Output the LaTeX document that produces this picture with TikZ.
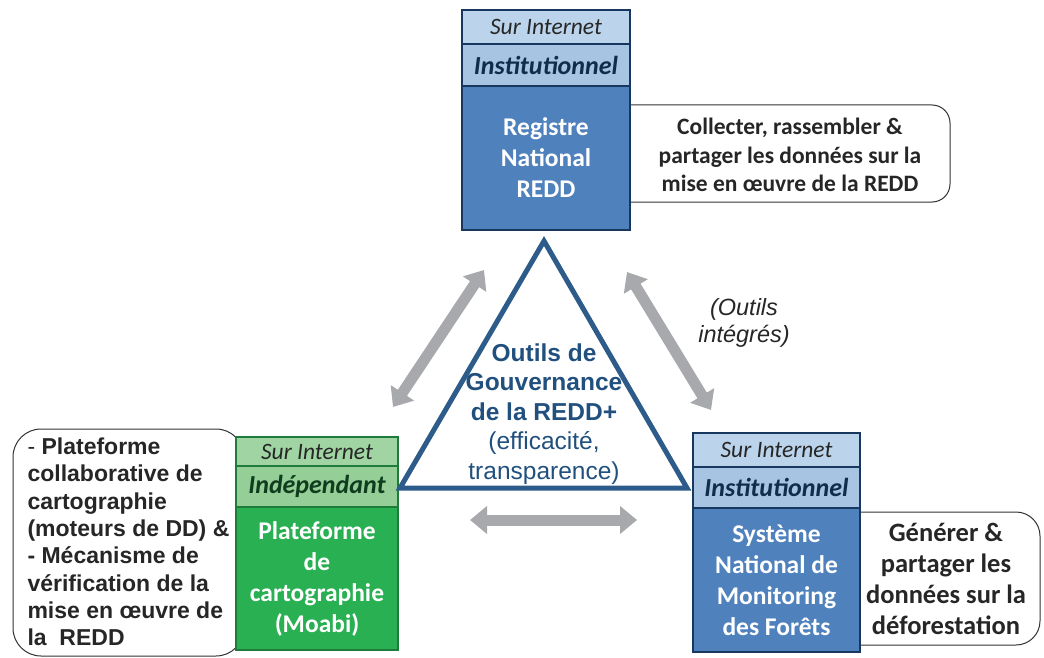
\documentclass[tikz,border=0pt]{standalone}
\usepackage{fontspec}
\setmainfont{Carlito}
\newfontfamily\arialfont{Liberation Sans}
\usetikzlibrary{arrows.meta}

\definecolor{navyline}{RGB}{23,55,94}
\definecolor{boxblue}{RGB}{79,129,189}
\definecolor{webblue}{RGB}{187,212,236}
\definecolor{instblue}{RGB}{167,196,226}
\definecolor{greenline}{RGB}{30,123,58}
\definecolor{boxgreen}{RGB}{41,176,82}
\definecolor{webgreen}{RGB}{160,212,162}
\definecolor{indgreen}{RGB}{150,206,152}
\definecolor{triblue}{RGB}{45,92,138}
\definecolor{tritext}{RGB}{33,80,126}
\definecolor{arrowgray}{RGB}{168,169,173}
\definecolor{textgray}{RGB}{38,38,38}

\tikzset{
  row/.style={draw, line width=2.5pt, inner sep=0pt, align=center},
  webrow/.style={row, font=\fontsize{23.5}{26}\selectfont\itshape, text=textgray},
  kindrow/.style={row, font=\fontsize{26}{28}\selectfont\bfseries\itshape},
  mainrow/.style={row, text=white, font=\fontsize{25.5}{31}\selectfont\bfseries},
  callout/.style={draw=black!80, line width=1pt, rounded corners=#1, fill=white},
  calltext/.style={text=textgray, align=center, font=\fontsize{23.5}{28.5}\selectfont\bfseries},
  link/.style={{Triangle[width=27pt,length=17pt]}-{Triangle[width=27pt,length=17pt]},
    line width=11pt, arrowgray}
}

\begin{document}
\begin{tikzpicture}[x=1pt, y=-1pt]
  \useasboundingbox (0,0) rectangle (1044,658);

  % Callouts (behind the boxes)
  \draw[callout=18pt] (600,105) rectangle (950,202);
  \node[calltext] (reg-note) at (790,155)
    {Collecter, rassembler \&\\partager les données sur la\\mise en œuvre de la REDD};

  \draw[callout=28pt] (13,429) rectangle (244,656);
  \node[anchor=west, align=left, text=textgray,
    font=\arialfont\fontsize{23}{27.3}\selectfont] (moabi-note) at (24,542)
    {- \textbf{Plateforme}\\\textbf{collaborative de}\\\textbf{cartographie}\\
     \textbf{(moteurs de DD) \&}\\\textbf{- Mécanisme de}\\\textbf{vérification de la}\\
     \textbf{mise en œuvre de}\\\textbf{la\ \ REDD}};

  \draw[callout=24pt] (830,512) rectangle (1040,645);
  \node[calltext, font=\fontsize{26.5}{31}\selectfont\bfseries] (snmf-note) at (946,579)
    {Générer \&\\partager les\\données sur la\\déforestation};

  % Registre National REDD
  \node[webrow, draw=navyline, fill=webblue, minimum width=168, minimum height=34]
    (reg-web) at (546,27) {Sur Internet};
  \node[kindrow, draw=navyline, fill=instblue, text=navyline!80!black,
    minimum width=168, minimum height=42] (reg-kind) at (546,65) {Institutionnel};
  \node[mainrow, draw=navyline, fill=boxblue, minimum width=168, minimum height=144]
    (reg) at (546,158) {Registre\\National\\REDD};

  % Plateforme de cartographie
  \node[webrow, draw=greenline, fill=webgreen, minimum width=162, minimum height=29]
    (moabi-web) at (317,451.5) {Sur Internet};
  \node[kindrow, draw=greenline, fill=indgreen, text=greenline!50!black,
    minimum width=162, minimum height=41] (moabi-kind) at (317,486.5) {Indépendant};
  \node[mainrow, draw=greenline, fill=boxgreen, minimum width=162, minimum height=143]
    (moabi) at (317,578.5) {Plateforme\\de\\cartographie\\(Moabi)};

  % Systeme National de Monitoring des Forets
  \node[webrow, draw=navyline, fill=webblue, minimum width=167, minimum height=34]
    (snmf-web) at (776.5,450) {Sur Internet};
  \node[kindrow, draw=navyline, fill=instblue, text=navyline!80!black,
    minimum width=167, minimum height=41] (snmf-kind) at (776.5,487.5) {Institutionnel};
  \node[mainrow, draw=navyline, fill=boxblue, minimum width=167, minimum height=144]
    (snmf) at (776.5,580) {Système\\National de\\Monitoring\\des Forêts};

  % Triangle
  \coordinate (top) at (544,241);
  \coordinate (left) at (400,488);
  \coordinate (right) at (687,488);
  \draw[triblue, line width=5pt, line join=miter] (top) -- (left) -- (right) -- cycle;
  \node[text=tritext, align=center, font=\arialfont\fontsize{24.5}{29.5}\selectfont]
    (gov) at (544,414)
    {\textbf{Outils de}\\\textbf{Gouvernance}\\\textbf{de la REDD+}\\(efficacité,\\transparence)};

  % Links between the tools
  \coordinate (l1) at (393,407);
  \coordinate (l2) at (484,270);
  \coordinate (r1) at (627,272);
  \coordinate (r2) at (711,410);
  \coordinate (b1) at (470,520);
  \coordinate (b2) at (637,520);
  \draw[link] (l1) -- (l2);
  \draw[link] (r1) -- (r2);
  \draw[link] (b1) -- (b2);

  \node[text=textgray, align=center, font=\arialfont\fontsize{23.5}{27}\selectfont\itshape]
    (integ) at (744,323) {(Outils\\intégrés)};
\end{tikzpicture}
\end{document}
